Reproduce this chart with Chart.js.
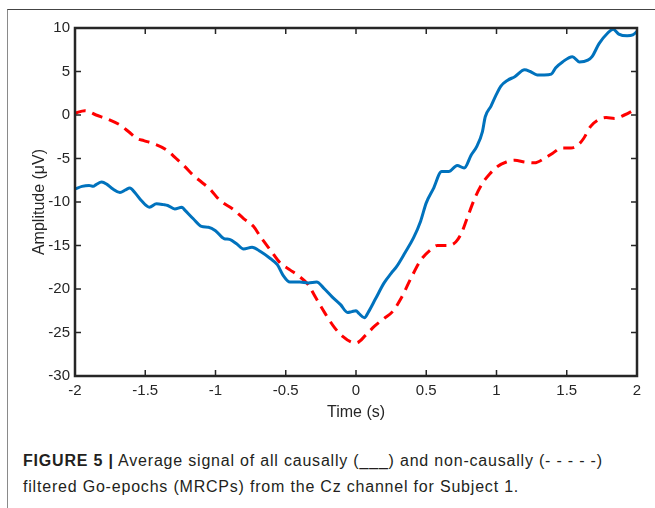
<!DOCTYPE html>
<html>
<head>
<meta charset="utf-8">
<script src="https://cdn.jsdelivr.net/npm/chart.js@4"></script>
<style>
  body { margin: 0; background: #fff; }
  #page { position: relative; width: 655px; height: 508px; overflow: hidden; }
  #frame { position: absolute; left: 7px; top: 9px; right: -2px; bottom: -2px;
           border-left: 1.5px solid #8a8a8a; border-top: 1.5px solid #444; }
  #chart { position: absolute; left: 0; top: 0; }
  .caption { position: absolute; left: 23px; font-family: Arial, "Liberation Sans", sans-serif;
             font-size: 16px; letter-spacing: 0.8px; color: #231f20; white-space: nowrap; }
  .caption b { font-weight: bold; }
</style>
</head>
<body>
<div id="page">
  <div id="frame"></div>
  <canvas id="chart" width="655" height="426"></canvas>
  <div class="caption" style="top:452px"><b>FIGURE 5 |</b> Average signal of all causally (___) and non-causally (- - - - -)</div>
  <div class="caption" style="top:478px">filtered Go-epochs (MRCPs) from the Cz channel for Subject 1.</div>
</div>
<script>
// time (s) and amplitude (uV)
const timeCausal = [-2.00,-1.95,-1.90,-1.87,-1.85,-1.81,-1.77,-1.73,-1.68,-1.64,-1.61,-1.57,-1.53,-1.47,-1.42,-1.37,-1.34,-1.29,-1.24,-1.22,-1.16,-1.10,-1.05,-1.00,-0.94,-0.90,-0.85,-0.80,-0.74,-0.68,-0.61,-0.56,-0.52,-0.47,-0.40,-0.34,-0.28,-0.23,-0.17,-0.11,-0.06,-0.03,0.00,0.02,0.06,0.09,0.14,0.20,0.25,0.29,0.35,0.41,0.46,0.50,0.55,0.61,0.66,0.72,0.77,0.82,0.86,0.90,0.92,0.96,1.00,1.03,1.08,1.13,1.20,1.24,1.29,1.34,1.39,1.42,1.47,1.54,1.59,1.65,1.68,1.73,1.79,1.83,1.87,1.93,1.97,2.00];
const ampCausal = [-8.5,-8.2,-8.1,-8.2,-8.0,-7.7,-8.0,-8.5,-8.9,-8.6,-8.4,-9.0,-9.8,-10.6,-10.2,-10.3,-10.4,-10.8,-10.6,-10.9,-11.9,-12.8,-12.9,-13.3,-14.2,-14.3,-14.8,-15.4,-15.2,-15.7,-16.5,-17.2,-18.4,-19.2,-19.2,-19.3,-19.2,-19.9,-20.9,-21.8,-22.7,-22.6,-22.5,-22.8,-23.3,-22.6,-21.1,-19.3,-18.2,-17.4,-15.8,-14.1,-12.2,-10.1,-8.5,-6.5,-6.5,-5.8,-6.1,-4.6,-3.6,-1.9,-0.2,1.0,2.4,3.3,4.0,4.4,5.2,5.0,4.6,4.6,4.7,5.4,6.1,6.7,6.1,6.3,6.7,8.2,9.4,9.85,9.3,9.1,9.2,9.6];

const timeNonCausal = [-2.00,-1.93,-1.85,-1.75,-1.68,-1.62,-1.56,-1.51,-1.44,-1.35,-1.28,-1.22,-1.16,-1.10,-1.04,-0.97,-0.87,-0.80,-0.73,-0.68,-0.61,-0.54,-0.47,-0.40,-0.34,-0.29,-0.22,-0.15,-0.09,-0.04,0.00,0.07,0.13,0.20,0.26,0.32,0.39,0.46,0.53,0.58,0.65,0.71,0.75,0.79,0.85,0.90,0.95,1.01,1.07,1.13,1.20,1.27,1.34,1.40,1.46,1.53,1.58,1.62,1.67,1.72,1.78,1.84,1.91,1.97,2.00];
const ampNonCausal = [0.2,0.5,0.0,-0.6,-1.15,-1.9,-2.7,-2.95,-3.3,-4.0,-5.0,-5.9,-6.9,-7.7,-8.5,-9.8,-10.9,-11.9,-12.8,-14.0,-15.5,-17.0,-17.8,-18.6,-19.5,-20.9,-22.8,-24.5,-25.5,-26.05,-26.2,-25.3,-24.3,-23.4,-22.6,-21.1,-18.8,-16.7,-15.5,-15.0,-15.0,-14.6,-13.6,-11.9,-9.4,-7.85,-6.8,-5.9,-5.4,-5.2,-5.4,-5.5,-5.0,-4.4,-3.8,-3.8,-3.45,-2.7,-1.3,-0.6,-0.3,-0.4,0.0,0.5,0.8];

const xTicks = [-2, -1.5, -1, -0.5, 0, 0.5, 1, 1.5, 2];
const yTicks = [-30, -25, -20, -15, -10, -5, 0, 5, 10];

const toPoints = (xs, ys) => xs.map((x, i) => ({ x: x, y: ys[i] }));

// matlab style box with inward ticks on all four sides
const boxTicks = {
  id: "boxTicks",
  afterDraw(chart) {
    const { ctx, chartArea: a, scales } = chart;
    const len = 6;
    ctx.save();
    ctx.strokeStyle = "#262626";
    ctx.lineWidth = 1.5;
    ctx.beginPath();
    xTicks.forEach((t) => {
      const px = scales.x.getPixelForValue(t);
      ctx.moveTo(px, a.bottom); ctx.lineTo(px, a.bottom - len);
      ctx.moveTo(px, a.top); ctx.lineTo(px, a.top + len);
    });
    yTicks.forEach((t) => {
      const py = scales.y.getPixelForValue(t);
      ctx.moveTo(a.left, py); ctx.lineTo(a.left + len, py);
      ctx.moveTo(a.right, py); ctx.lineTo(a.right - len, py);
    });
    ctx.stroke();
    ctx.lineWidth = 2.5;
    ctx.strokeRect(a.left, a.top, a.right - a.left, a.bottom - a.top);
    ctx.restore();
  },
};

const tickFont = { family: "Arial, 'Liberation Sans', sans-serif", size: 15 };
const titleFont = { family: "Arial, 'Liberation Sans', sans-serif", size: 16 };

new Chart(document.getElementById("chart"), {
  type: "line",
  data: {
    datasets: [
      {
        label: "causal",
        data: toPoints(timeCausal, ampCausal),
        borderColor: "#0072BD",
        borderWidth: 3,
        pointRadius: 0,
        cubicInterpolationMode: "monotone",
      },
      {
        label: "non-causal",
        data: toPoints(timeNonCausal, ampNonCausal),
        borderColor: "#FF0000",
        borderWidth: 3,
        borderDash: [11, 7],
        pointRadius: 0,
        cubicInterpolationMode: "monotone",
      },
    ],
  },
  options: {
    responsive: false,
    animation: false,
    events: [],
    layout: { padding: { left: 26, top: 28, right: 18, bottom: 0 } },
    plugins: { legend: { display: false }, tooltip: { enabled: false } },
    scales: {
      x: {
        type: "linear",
        min: -2,
        max: 2,
        afterBuildTicks: (s) => { s.ticks = xTicks.map((v) => ({ value: v })); },
        afterFit: (s) => { s.height = 50; },
        grid: { display: false, drawTicks: false },
        border: { display: false },
        ticks: { color: "#262626", font: tickFont, padding: 6, maxRotation: 0, callback: (v) => String(v) },
        title: { display: true, text: "Time (s)", color: "#262626", font: titleFont },
      },
      y: {
        min: -30,
        max: 10,
        afterBuildTicks: (s) => { s.ticks = yTicks.map((v) => ({ value: v })); },
        afterFit: (s) => { s.width = 49; },
        grid: { display: false, drawTicks: false },
        border: { display: false },
        ticks: { color: "#262626", font: tickFont, padding: 5, callback: (v) => String(v) },
        title: { display: true, text: "Amplitude (μV)", color: "#262626", font: titleFont },
      },
    },
  },
  plugins: [boxTicks],
});
</script>
</body>
</html>
